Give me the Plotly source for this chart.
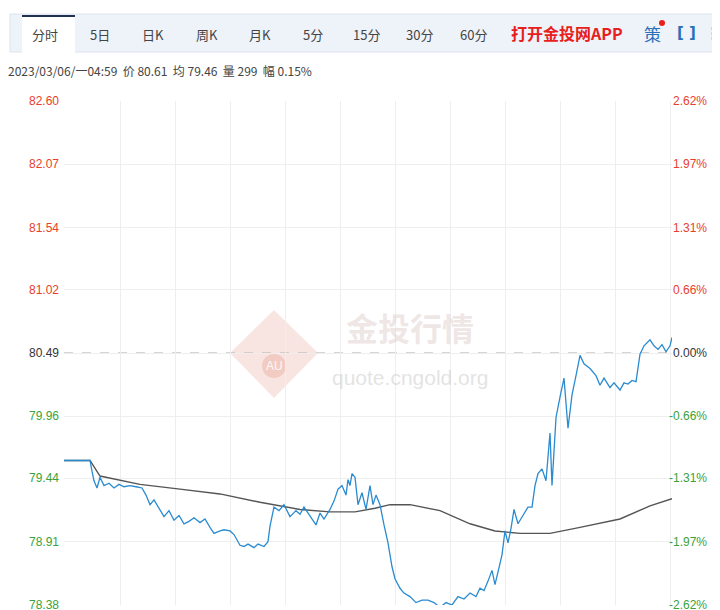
import plotly.graph_objects as go

# price trace (minute index, price)
t_price = [0,26,28,30,33,36,40,45,50,55,60,66,72,78,82,86,90,96,100,105,110,115,120,125,130,136,141,146,150,156,160,166,170,176,180,184,190,194,200,204,206,210,215,220,226,232,236,240,246,252,256,260,266,270,274,278,282,284,286,288,291,294,298,302,306,309,312,316,320,324,328,331,336,340,346,352,358,364,370,376,382,388,394,400,406,412,416,420,424,426,428,431,434,438,441,444,447,450,454,458,464,468,471,474,478,482,484,486,488,492,496,500,504,508,512,516,520,526,532,536,540,546,550,556,560,564,568,572,576,580,586,590,594,598,602,606,608]
p_price = [79.59,79.59,79.50,79.42,79.36,79.45,79.38,79.40,79.36,79.39,79.37,79.38,79.37,79.36,79.30,79.22,79.26,79.18,79.12,79.17,79.09,79.13,79.06,79.08,79.11,79.07,79.10,79.03,78.98,79.00,79.01,79.00,78.97,78.88,78.87,78.89,78.86,78.89,78.87,78.91,79.04,79.20,79.17,79.22,79.12,79.17,79.14,79.20,79.12,79.05,79.15,79.10,79.18,79.25,79.35,79.38,79.30,79.43,79.38,79.48,79.45,79.22,79.32,79.18,79.38,79.22,79.30,79.22,79.05,78.90,78.70,78.60,78.52,78.48,78.45,78.40,78.42,78.42,78.40,78.36,78.40,78.38,78.45,78.43,78.48,78.45,78.52,78.50,78.58,78.62,78.67,78.55,78.66,78.80,79.00,78.90,79.02,79.18,79.06,79.12,79.20,79.20,79.38,79.48,79.52,79.42,79.60,79.82,79.38,79.95,80.12,80.28,79.86,80.14,80.30,80.47,80.40,80.36,80.30,80.22,80.28,80.20,80.24,80.18,80.24,80.23,80.26,80.25,80.48,80.55,80.60,80.55,80.52,80.56,80.50,80.55,80.62]

# average price line
t_avg = [0,26,36,76,116,156,196,236,266,291,311,326,346,376,406,431,456,486,516,556,586,608]
p_avg = [79.59,79.59,79.46,79.39,79.35,79.31,79.24,79.18,79.16,79.16,79.19,79.22,79.22,79.17,79.06,79.00,78.98,78.98,79.03,79.10,79.21,79.27]

left_ticks = [82.60,82.07,81.54,81.02,80.49,79.96,79.44,78.91,78.38]
right_ticks = ["2.62%","1.97%","1.31%","0.66%","0.00%","-0.66%","-1.31%","-1.97%","-2.62%"]
tabs = ["分时","5日","日K","周K","月K","5分","15分","30分","60分"]
tab_x = [45,100,153,207,260,313,366,419,473]
base = 80.49

def py(y):  # screen pixel y -> paper
    return (605 - y) / 504
def px(x):
    return (x - 64) / 608

fig = go.Figure()
fig.add_trace(go.Scatter(x=t_avg, y=p_avg, mode="lines", line=dict(color="#555555", width=1.4), hoverinfo="skip"))
fig.add_trace(go.Scatter(x=t_price, y=p_price, mode="lines", line=dict(color="#2a8bd0", width=1.3), hoverinfo="skip"))

def col(v):
    return "#e8402c" if v > base + 0.001 else ("#3aa23a" if v < base - 0.001 else "#333333")

def A(x, y, text, color, size, fam="Noto Sans CJK SC", xa="center", yref="paper"):
    return dict(x=px(x), y=y, xref="paper", yref=yref, text=text, showarrow=False,
                xanchor=xa, yanchor="middle", font=dict(color=color, size=size, family=fam))

anns = []
for v, r in zip(left_ticks, right_ticks):
    anns.append(A(61, v, f"{v:.2f}", col(v), 12, "Liberation Sans", "right", "y"))
    anns.append(A(709, v, r, col(v), 12, "Liberation Sans", "right", "y"))
for name, x in zip(tabs, tab_x):
    anns.append(A(x, py(34), name, "#444444", 13))
anns += [
    A(567, py(33), "<b>打开金投网APP</b>", "#e8201c", 16),
    A(652, py(33), "策", "#2a6fb8", 17),
    A(686, py(33), "<b>[ ]</b>", "#2a6fb8", 15, "DejaVu Sans"),
    A(713, py(33), "<b>⋮</b>", "#2a6fb8", 16, "DejaVu Sans"),
    A(6, py(70), "2023/03/06/一04:59  价 80.61  均 79.46  量 299  幅 0.15%", "#444444", 12, xa="left"),
    A(410, py(327), "<b>金投行情</b>", "rgba(220,200,200,0.45)", 32),
    A(410, py(377), "quote.cngold.org", "rgba(200,200,200,0.5)", 21, "Liberation Sans"),
    A(274, py(366), "AU", "rgba(255,255,255,0.9)", 12, "Liberation Sans"),
]

shapes = [
    dict(type="rect", xref="paper", yref="paper", x0=px(10), x1=px(730), y0=py(52), y1=py(14),
         fillcolor="#eef2f9", line=dict(color="#dde3ee", width=1), layer="below"),
    dict(type="rect", xref="paper", yref="paper", x0=px(22), x1=px(75), y0=py(53), y1=py(16),
         fillcolor="white", line_width=0, layer="below"),
    dict(type="line", xref="paper", yref="paper", x0=px(22), x1=px(75), y0=py(16), y1=py(16),
         line=dict(color="#1f3050", width=2)),
    dict(type="line", xref="paper", yref="y", x0=0, x1=1, y0=base, y1=base,
         line=dict(color="#aaaaaa", width=1, dash="dash"), layer="below"),
    dict(type="path", xref="paper", yref="paper",
         path=f"M {px(274)},{py(310)} L {px(318)},{py(353)} L {px(274)},{py(398)} L {px(230)},{py(353)} Z",
         fillcolor="rgba(235,180,170,0.35)", line_width=0, layer="below"),
    dict(type="circle", xref="paper", yref="paper", x0=px(262), x1=px(286), y0=py(378), y1=py(354),
         fillcolor="rgba(235,170,160,0.45)", line_width=0, layer="below"),
    dict(type="circle", xref="paper", yref="paper", x0=px(659), x1=px(665), y0=py(26), y1=py(20),
         fillcolor="#e8201c", line_width=0),
]

fig.update_layout(
    width=720, height=610, margin=dict(l=56, r=56, t=93, b=13),
    paper_bgcolor="white", plot_bgcolor="white", showlegend=False,
    xaxis=dict(range=[0, 608], showgrid=True, gridcolor="#eeeeee", dtick=55, tick0=56,
               showticklabels=False, zeroline=False, showline=False),
    yaxis=dict(range=[78.38, 82.60], tickvals=left_ticks, showticklabels=False,
               showgrid=True, gridcolor="#eeeeee", zeroline=False),
    annotations=anns, shapes=shapes,
)
fig.write_html("out.html")
